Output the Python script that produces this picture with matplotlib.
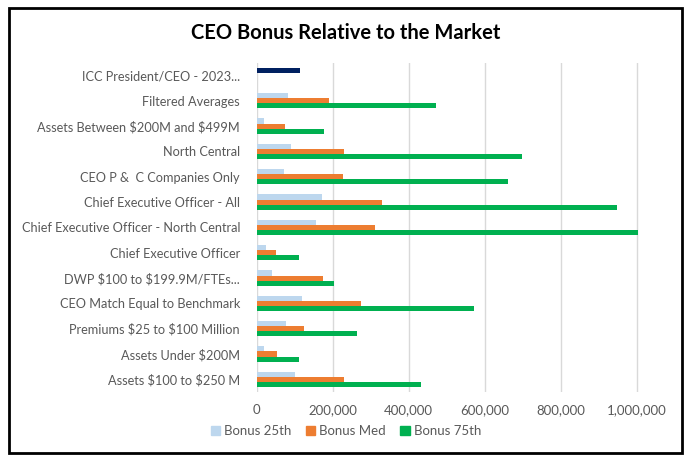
import numpy as np
import matplotlib
matplotlib.use("Agg")
import matplotlib.pyplot as plt
from matplotlib.patches import Rectangle, Patch
from matplotlib.ticker import FuncFormatter

categories = [
    "ICC President/CEO - 2023...",
    "Filtered Averages",
    "Assets Between $200M and $499M",
    "North Central",
    "CEO P &  C Companies Only",
    "Chief Executive Officer - All",
    "Chief Executive Officer - North Central",
    "Chief Executive Officer",
    "DWP $100 to $199.9M/FTEs...",
    "CEO Match Equal to Benchmark",
    "Premiums $25 to $100 Million",
    "Assets Under $200M",
    "Assets $100 to $250 M",
]
# first value of the 25th series is the ICC point (drawn in navy)
bonus_25 = [114000, 81600, 19000, 90000, 72000, 172000, 156000, 24500, 40000, 119000, 77000, 19000, 101000]
bonus_med = [0, 190000, 74500, 230000, 227000, 330000, 311000, 51000, 174000, 274000, 124500, 53500, 230000]
bonus_75 = [0, 472000, 177000, 698000, 661000, 948000, 1003000, 111000, 203000, 572000, 264000, 111000, 432000]
xticks = [0, 200000, 400000, 600000, 800000, 1000000]

c25 = "#BDD7EE"
cmed = "#ED7D31"
c75 = "#00B050"
cicc = "#002060"
grey = "#595959"

plt.rcParams['font.family'] = ['Lato', 'DejaVu Sans']
plt.rcParams['text.parse_math'] = False

fig = plt.figure(figsize=(6.92, 4.65), dpi=100)
ax = fig.add_axes([0.371, 0.157, 0.604, 0.708])

y = np.arange(len(categories))
h = 0.2
cols25 = [cicc] + [c25] * (len(categories) - 1)
ax.barh(y - h, bonus_25, height=h, color=cols25, zorder=3)
ax.barh(y, bonus_med, height=h, color=cmed, zorder=3)
ax.barh(y + h, bonus_75, height=h, color=c75, zorder=3)

ax.set_ylim(len(categories) - 0.5, -0.5)
ax.set_xlim(0, 1100000)
ax.set_yticks(y)
ax.set_yticklabels(categories, fontsize=9.2, color=grey)
ax.set_xticks(xticks)
ax.xaxis.set_major_formatter(FuncFormatter(lambda v, p: f"{int(v):,}"))
ax.tick_params(axis='x', labelsize=9.5, colors=grey, length=0, pad=9)
ax.tick_params(axis='y', length=0, pad=12)
ax.grid(axis='x', color="#d9d9d9", linewidth=1, zorder=0)
for s in ax.spines.values():
    s.set_visible(False)

fig.text(0.5, 0.928, "CEO Bonus Relative to the Market", ha='center', va='center',
         fontsize=14.5, fontweight='bold', color='black')

handles = [Patch(color=c25, label="Bonus 25th"),
           Patch(color=cmed, label="Bonus Med"),
           Patch(color=c75, label="Bonus 75th")]
fig.legend(handles=handles, loc='center', bbox_to_anchor=(0.5, 0.073), ncol=3, frameon=False,
           fontsize=9.5, labelcolor=grey, handlelength=0.7, handleheight=0.7,
           handletextpad=0.3, columnspacing=1.1)

fig.add_artist(Rectangle((0.013, 0.026), 0.972, 0.956, transform=fig.transFigure,
                         fill=False, edgecolor='black', linewidth=2))

fig.savefig("out.png", dpi=100)
